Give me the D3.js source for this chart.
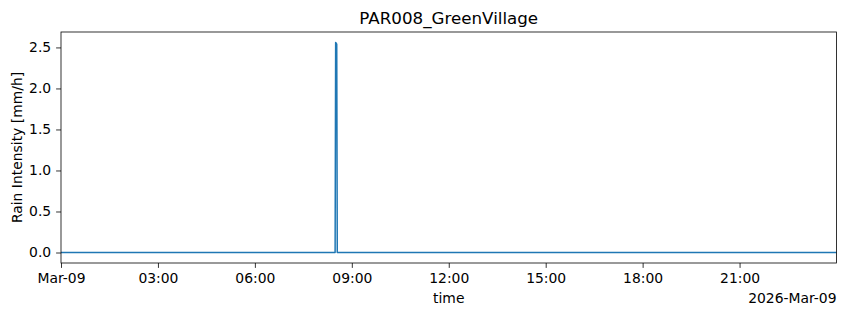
<!DOCTYPE html>
<html>
<head>
<meta charset="utf-8">
<script src="https://cdn.jsdelivr.net/npm/d3@7"></script>
<style>
  body { margin: 0; background: #fff; }
  text { font-family: "DejaVu Sans", sans-serif; fill: #000; }
</style>
</head>
<body>
<svg id="chart" width="846" height="316"></svg>
<script>
const title = "PAR008_GreenVillage";
const times = [
    "2026-03-09T00:00", "2026-03-09T08:29", "2026-03-09T08:30",
    "2026-03-09T08:32", "2026-03-09T08:33", "2026-03-10T00:00"
];
const rain = [0, 0, 2.56, 2.54, 0, 0];
const yTicks = [0, 0.5, 1.0, 1.5, 2.0, 2.5];
const xTickHours = [0, 3, 6, 9, 12, 15, 18, 21];

const parse = d3.timeParse("%Y-%m-%dT%H:%M");
const data = times.map((t, i) => ({ t: parse(t), v: rain[i] }));

const svg = d3.select("#chart");
const margin = { top: 32, right: 9.5, bottom: 53, left: 61 };
const width = 846 - margin.left - margin.right;
const height = 316 - margin.top - margin.bottom;

const day0 = parse("2026-03-09T00:00");
const day1 = parse("2026-03-10T00:00");

const x = d3.scaleTime().domain([day0, day1]).range([0, width]);
const ymax = d3.max(rain);
const pad = ymax * 0.05;
const y = d3.scaleLinear().domain([-pad, ymax + pad]).range([height, 0]);

const g = svg.append("g").attr("transform", `translate(${margin.left},${margin.top})`);

const xTickVals = xTickHours.map((h) => d3.timeHour.offset(day0, h));
const xAxis = d3.axisBottom(x)
    .tickValues(xTickVals)
    .tickSize(4.9)
    .tickPadding(4.9)
    .tickFormat((d) => (d.getHours() === 0 ? d3.timeFormat("%b-%d")(d) : d3.timeFormat("%H:%M")(d)));

const yAxis = d3.axisLeft(y)
    .tickValues(yTicks)
    .tickSize(4.9)
    .tickPadding(4.9)
    .tickFormat(d3.format(".1f"));

const line = d3.line().x((d) => x(d.t)).y((d) => y(d.v));

g.append("path")
    .datum(data)
    .attr("fill", "none")
    .attr("stroke", "#1f77b4")
    .attr("stroke-width", 1.5)
    .attr("stroke-linejoin", "round")
    .attr("d", line);

const gx = g.append("g").attr("transform", `translate(0,${height})`).call(xAxis);
const gy = g.append("g").call(yAxis);
[gx, gy].forEach((a) => {
    a.select(".domain").remove();
    a.selectAll("text").style("font-size", "13.9px").style("font-family", "DejaVu Sans");
    a.selectAll("line").attr("stroke", "#000").attr("stroke-width", 0.8);
});

g.append("rect")
    .attr("width", width)
    .attr("height", height)
    .attr("fill", "none")
    .attr("stroke", "#000")
    .attr("stroke-width", 0.8);

svg.append("text")
    .attr("x", margin.left + width / 2)
    .attr("y", 24)
    .attr("text-anchor", "middle")
    .style("font-size", "16.7px")
    .text(title);

svg.append("text")
    .attr("x", margin.left + width / 2)
    .attr("y", 303)
    .attr("text-anchor", "middle")
    .style("font-size", "13.9px")
    .text("time");

svg.append("text")
    .attr("x", margin.left + width)
    .attr("y", 303)
    .attr("text-anchor", "end")
    .style("font-size", "13.9px")
    .text("2026-Mar-09");

svg.append("text")
    .attr("transform", `translate(22,${margin.top + height / 2}) rotate(-90)`)
    .attr("text-anchor", "middle")
    .style("font-size", "13.9px")
    .text("Rain Intensity [mm/h]");
</script>
</body>
</html>
